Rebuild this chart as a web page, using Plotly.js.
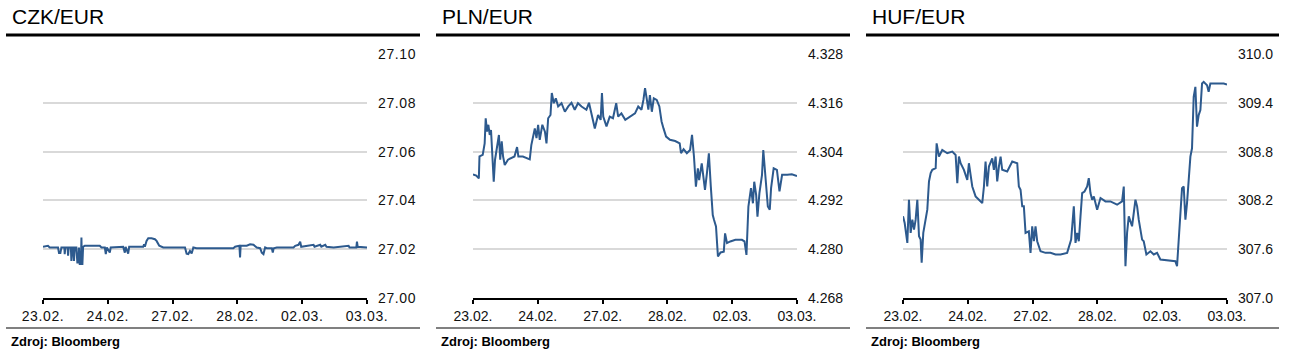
<!DOCTYPE html>
<html><head><meta charset="utf-8">
<script src="https://cdn.plot.ly/plotly-3.0.1.min.js"></script>
<style>html,body{margin:0;padding:0;background:#fff;overflow:hidden}
.xtick text,.ytick text{letter-spacing:0.6px}</style>
</head><body><div id="chart" style="width:1290px;height:353px"></div>
<script>
const dayLabels = ['23.02.','24.02.','27.02.','28.02.','02.03.','03.03.'];
const dayPos = [0,1,2,3,4,5];
const titles = ['CZK/EUR','PLN/EUR','HUF/EUR'];
const sourceText = 'Zdroj: Bloomberg';

const czkT = [0,0.077,0.103,0.232,0.247,0.268,0.284,0.330,0.335,0.345,0.380,0.387,0.397,0.430,0.438,0.448,0.464,0.478,0.490,0.515,0.530,0.545,0.555,0.567,0.585,0.593,0.600,0.608,0.619,0.644,0.876,0.902,0.954,0.969,0.985,1.031,1.045,1.237,1.263,1.275,1.314,1.330,1.546,1.560,1.572,1.598,1.624,1.675,1.727,1.753,1.794,1.830,1.856,2.191,2.216,2.242,2.268,2.294,2.320,2.371,2.938,2.964,3.015,3.031,3.041,3.050,3.144,3.196,3.247,3.299,3.351,3.376,3.402,3.428,3.454,3.531,3.546,3.560,3.608,3.866,3.892,3.943,3.969,3.985,4.175,4.190,4.278,4.295,4.356,4.375,4.485,4.716,4.730,4.835,4.845,4.856,5.0];
const czkV = [27.0210,27.0214,27.0207,27.0207,27.0184,27.0184,27.0207,27.0207,27.0180,27.0207,27.0207,27.0173,27.0207,27.0207,27.0152,27.0207,27.0207,27.0152,27.0207,27.0207,27.0145,27.0145,27.0207,27.0139,27.0139,27.0248,27.0139,27.0139,27.0210,27.0214,27.0214,27.0207,27.0207,27.0180,27.0207,27.0186,27.0207,27.0210,27.0186,27.0210,27.0182,27.0210,27.0210,27.0220,27.0210,27.0234,27.0245,27.0245,27.0241,27.0234,27.0214,27.0210,27.0207,27.0207,27.0182,27.0180,27.0193,27.0182,27.0207,27.0204,27.0204,27.0210,27.0214,27.0214,27.0166,27.0214,27.0214,27.0220,27.0218,27.0207,27.0204,27.0186,27.0180,27.0207,27.0204,27.0204,27.0186,27.0204,27.0207,27.0207,27.0214,27.0218,27.0231,27.0210,27.0218,27.0210,27.0218,27.0210,27.0218,27.0210,27.0207,27.0214,27.0207,27.0207,27.0231,27.0210,27.0207];

const plnT = [0,0.05,0.09,0.10,0.15,0.18,0.196,0.216,0.237,0.258,0.278,0.299,0.32,0.34,0.36,0.38,0.40,0.42,0.443,0.464,0.49,0.54,0.59,0.64,0.68,0.70,0.77,0.876,0.90,0.954,0.98,1.005,1.03,1.07,1.11,1.134,1.16,1.196,1.216,1.247,1.278,1.314,1.366,1.418,1.47,1.52,1.57,1.62,1.675,1.75,1.79,1.83,1.88,1.93,1.97,1.99,2.01,2.06,2.11,2.16,2.21,2.24,2.29,2.35,2.42,2.5,2.55,2.60,2.63,2.655,2.68,2.706,2.73,2.76,2.79,2.835,2.876,2.91,2.94,2.98,3.04,3.12,3.19,3.21,3.25,3.30,3.35,3.38,3.41,3.44,3.47,3.49,3.53,3.56,3.58,3.61,3.64,3.67,3.70,3.72,3.75,3.78,3.82,3.87,3.89,3.92,3.97,4.05,4.15,4.19,4.22,4.25,4.29,4.32,4.34,4.37,4.39,4.42,4.46,4.48,4.51,4.55,4.58,4.60,4.64,4.69,4.73,4.77,4.85,4.92,5.0];
const plnV = [4.2984,4.2981,4.2974,4.3028,4.3032,4.3060,4.3122,4.3089,4.3106,4.3081,4.3093,4.3020,4.2966,4.3020,4.3044,4.3060,4.3081,4.3020,4.3065,4.3028,4.3007,4.3020,4.3024,4.3028,4.3051,4.3028,4.3028,4.3021,4.3056,4.3097,4.3073,4.3106,4.3069,4.3106,4.3089,4.3060,4.3122,4.3130,4.3184,4.3159,4.3171,4.3151,4.3159,4.3138,4.3151,4.3160,4.3143,4.3159,4.3151,4.3143,4.3160,4.3130,4.3097,4.3130,4.3118,4.3184,4.3126,4.3102,4.3126,4.3122,4.3159,4.3126,4.3134,4.3118,4.3126,4.3134,4.3151,4.3143,4.3167,4.3196,4.3171,4.3143,4.3179,4.3138,4.3171,4.3167,4.3151,4.3114,4.3097,4.3077,4.3069,4.3066,4.3060,4.3036,4.3046,4.3036,4.3044,4.3081,4.3028,4.2954,4.2999,4.2970,4.3011,4.2979,4.2946,4.2987,4.3036,4.2954,4.2884,4.2872,4.2856,4.2782,4.2792,4.2794,4.2839,4.2815,4.2819,4.2823,4.2823,4.2819,4.2786,4.2905,4.2950,4.2913,4.2966,4.2933,4.2880,4.2938,4.2983,4.3044,4.2983,4.2905,4.2897,4.2950,4.2999,4.2995,4.2942,4.2983,4.2983,4.2984,4.2980];

const hufT = [0,0.026,0.067,0.092,0.118,0.144,0.170,0.195,0.221,0.247,0.272,0.288,0.313,0.349,0.375,0.401,0.427,0.452,0.504,0.519,0.555,0.606,0.683,0.761,0.812,0.838,0.863,0.889,0.940,0.992,1.017,1.069,1.120,1.172,1.223,1.249,1.274,1.300,1.326,1.377,1.403,1.429,1.454,1.480,1.506,1.531,1.608,1.686,1.763,1.788,1.814,1.840,1.865,1.891,1.942,1.968,1.994,2.020,2.045,2.071,2.122,2.199,2.276,2.354,2.431,2.533,2.559,2.595,2.636,2.662,2.688,2.713,2.739,2.765,2.801,2.842,2.867,2.893,2.919,2.945,2.996,3.048,3.124,3.201,3.304,3.381,3.407,3.433,3.458,3.484,3.535,3.561,3.587,3.613,3.638,3.690,3.715,3.756,3.818,3.870,3.921,3.972,4.075,4.203,4.229,4.255,4.281,4.306,4.332,4.358,4.383,4.409,4.435,4.460,4.486,4.512,4.537,4.563,4.589,4.615,4.640,4.692,4.717,4.743,4.846,4.949,5.0];
const hufV = [308.004,307.922,307.677,308.208,307.800,307.963,307.841,307.963,308.208,307.759,307.718,307.433,307.800,308.004,308.086,308.433,308.535,308.576,308.596,308.902,308.739,308.820,308.780,308.800,308.759,308.412,308.739,308.657,308.576,308.453,308.657,308.371,308.249,308.208,308.167,308.371,308.678,308.371,308.616,308.718,308.576,308.739,308.433,308.616,308.739,308.576,308.555,308.678,308.657,308.371,308.331,308.127,308.127,307.800,307.820,307.555,307.882,307.698,307.882,307.698,307.575,307.555,307.555,307.535,307.535,307.555,307.616,307.718,308.127,307.677,307.800,307.698,308.004,308.290,308.310,308.371,308.473,308.290,308.208,308.249,308.086,308.229,308.188,308.188,308.147,308.188,308.371,307.392,307.800,308.004,307.882,308.045,308.208,308.127,307.963,307.718,307.698,307.535,307.575,307.535,307.555,307.473,307.461,307.453,307.392,307.759,308.086,308.351,308.371,307.963,308.167,308.412,308.739,308.841,309.474,309.596,309.106,309.249,309.310,309.637,309.657,309.616,309.535,309.637,309.637,309.637,309.625];

const czkTicks = [27.00,27.02,27.04,27.06,27.08,27.10];
const plnTicks = [4.268,4.280,4.292,4.304,4.316,4.328];
const hufTicks = [307.0,307.6,308.2,308.8,309.4,310.0];

const W = 1290, H = 353;
const FONT = '"Liberation Sans", Arial, Helvetica, sans-serif';
const LINE = '#2d5a8e';
const plotLeft = [43, 473, 903], plotW = 324, plotTop = 54, plotBottom = 298;
const panelLeft = [6, 436, 866], panelRight = [420, 850, 1279];
const fx = p => p / W, fy = p => 1 - p / H;

const series = [[czkT, czkV, czkTicks, 2], [plnT, plnV, plnTicks, 3], [hufT, hufV, hufTicks, 1]];
const data = [];
const layout = {
  width: W, height: H, margin: {l: 0, r: 0, t: 0, b: 0},
  paper_bgcolor: '#fff', plot_bgcolor: '#fff', showlegend: false,
  font: {family: FONT, size: 14, color: '#111'},
  shapes: [], annotations: []
};
series.forEach((s, i) => {
  const n = i === 0 ? '' : String(i + 1);
  data.push({x: s[0], y: s[1], type: 'scatter', mode: 'lines', xaxis: 'x' + n, yaxis: 'y' + n,
    line: {color: LINE, width: 2}, hoverinfo: 'skip'});
  layout['xaxis' + n] = {
    domain: [fx(plotLeft[i]), fx(plotLeft[i] + plotW)], anchor: 'y' + n, range: [0, 5],
    tickvals: dayPos, ticktext: dayLabels, showgrid: false, zeroline: false,
    showline: true, linecolor: '#000', linewidth: 2, ticks: 'outside', ticklen: 4, tickwidth: 2,
    tickcolor: '#000', tickfont: {family: FONT, size: 14, color: '#111'}, fixedrange: true
  };
  layout['yaxis' + n] = {
    domain: [fy(plotBottom), fy(plotTop)], anchor: 'x' + n, side: 'right',
    range: [s[2][0], s[2][5]], tickvals: s[2], ticktext: s[2].map(v => v.toFixed(s[3])),
    showgrid: true, gridcolor: '#d9d9d9', gridwidth: 2, zeroline: false, showline: false,
    ticks: '', ticklabelstandoff: 10, tickfont: {family: FONT, size: 14, color: '#111'}, fixedrange: true
  };
  layout.shapes.push({type: 'line', xref: 'paper', yref: 'paper', x0: fx(panelLeft[i]), x1: fx(panelRight[i]),
    y0: fy(35), y1: fy(35), line: {color: '#000', width: 3}});
  layout.shapes.push({type: 'line', xref: 'paper', yref: 'paper', x0: fx(panelLeft[i]), x1: fx(panelRight[i]),
    y0: fy(328), y1: fy(328), line: {color: '#808080', width: 2}});
  layout.annotations.push({text: titles[i], xref: 'paper', yref: 'paper', x: fx(panelLeft[i] + 4), y: fy(17),
    xanchor: 'left', yanchor: 'middle', showarrow: false, font: {family: FONT, size: 21, color: '#000'}});
  layout.annotations.push({text: '<b>' + sourceText + '</b>', xref: 'paper', yref: 'paper', x: fx(panelLeft[i] + 3), y: fy(341),
    xanchor: 'left', yanchor: 'middle', showarrow: false, font: {family: FONT, size: 13, color: '#000'}});
});
Plotly.newPlot('chart', data, layout, {staticPlot: true, displayModeBar: false});
</script></body></html>
